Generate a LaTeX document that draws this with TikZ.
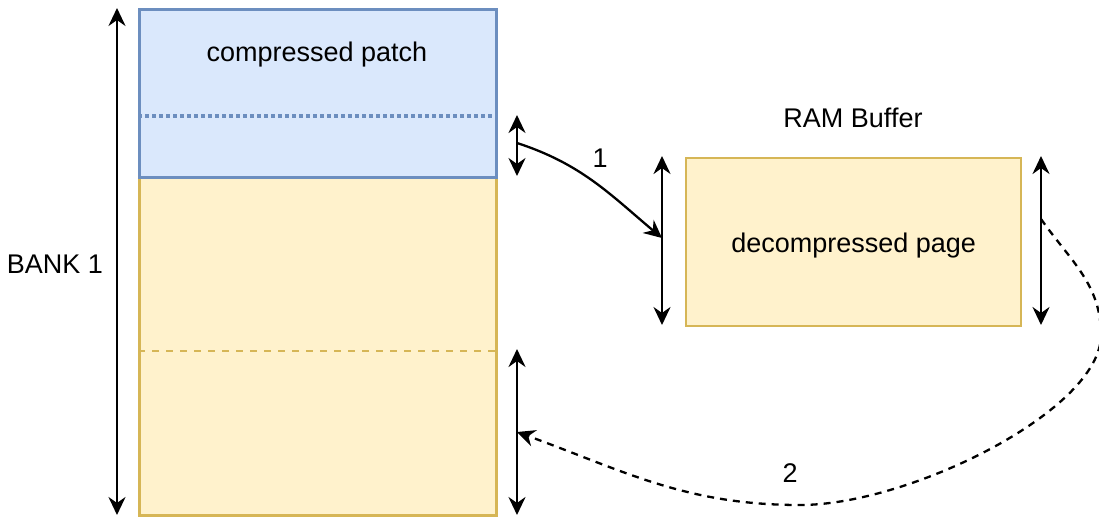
\documentclass[tikz,border=0pt]{standalone}
\usepackage{fontspec}
\setmainfont{Liberation Sans}
\usetikzlibrary{arrows.meta}
\definecolor{patchfill}{HTML}{DAE8FC}
\definecolor{patchline}{HTML}{6C8EBF}
\definecolor{pagefill}{HTML}{FFF2CC}
\definecolor{pageline}{HTML}{D6B656}
\begin{document}
\begin{tikzpicture}[x=1pt,y=-1pt,
  lbl/.style={font=\fontsize{27}{32}\selectfont, inner sep=0pt},
  memblock/.style={draw, line width=3.4pt, anchor=north west, inner sep=0pt},
  tipshape/.tip={Stealth[length=18pt,width=17pt,inset=6pt]},
  span/.style={line width=2.8pt, tipshape-tipshape},
  flow/.style={line width=2.3pt, -tipshape},
]
\useasboundingbox (0,0) rectangle (1099,517);

% flash bank: page area and the compressed patch on top of it
\node[memblock, draw=pageline, fill=pagefill, minimum width=357pt, minimum height=338pt] (bank) at (138,176) {};
\node[memblock, draw=patchline, fill=patchfill, minimum width=357pt, minimum height=168pt] (patch) at (138,8) {};
\node[lbl] (patchtext) at (317,55) {compressed patch};
\draw[patchline, line width=3.2pt, dash pattern=on 3.5pt off 3.5pt] (patch.west |- 0,116) -- (patch.east |- 0,116);
\draw[pageline, line width=2pt, dash pattern=on 7pt off 7pt] (bank.west |- 0,351) -- (bank.east |- 0,351);
\node[lbl] (banktext) at (55,264) {BANK 1};

% RAM buffer
\node[lbl] (ramtext) at (853,118) {RAM Buffer};
\node[memblock, draw=pageline, fill=pagefill, line width=2.4pt, minimum width=335pt, minimum height=168pt] (ram) at (685,157) {};
\node[lbl] (ramlabel) at ([yshift=-3pt]ram.center) {decompressed page};

% extents
\coordinate (bankTop) at (117,8);
\coordinate (bankBot) at (117,515);
\coordinate (patchTop) at (517,115);
\coordinate (patchBot) at (517,176);
\coordinate (slotTop) at (517,349);
\coordinate (slotBot) at (517,515);
\coordinate (ramLTop) at (662,156);
\coordinate (ramLBot) at (662,325);
\coordinate (ramRTop) at (1041,156);
\coordinate (ramRBot) at (1041,325);
\draw[span] (bankTop) -- (bankBot);
\draw[span] (patchTop) -- (patchBot);
\draw[span] (slotTop) -- (slotBot);
\draw[span] (ramLTop) -- (ramLBot);
\draw[span] (ramRTop) -- (ramRBot);

% step 1: decompress into RAM
\coordinate (oneFrom) at (517,143);
\coordinate (oneTo) at (662,238);
\draw[flow] (oneFrom) to[out=-18,in=140] (oneTo);
\node[lbl] (onelabel) at (600,158) {1};

% step 2: write back to the bank
\coordinate (twoFrom) at (1041,219);
\coordinate (twoSide) at (1101,335);
\coordinate (twoLow) at (800,505);
\coordinate (twoTo) at (517,432);
\draw[flow, dash pattern=on 7pt off 6pt] (twoFrom) to[out=-55,in=90] (twoSide)
  .. controls (1101,410) and (910,505) .. (twoLow)
  to[out=180,in=-20] (twoTo);
\node[lbl] (twolabel) at (790,473) {2};
\end{tikzpicture}
\end{document}
